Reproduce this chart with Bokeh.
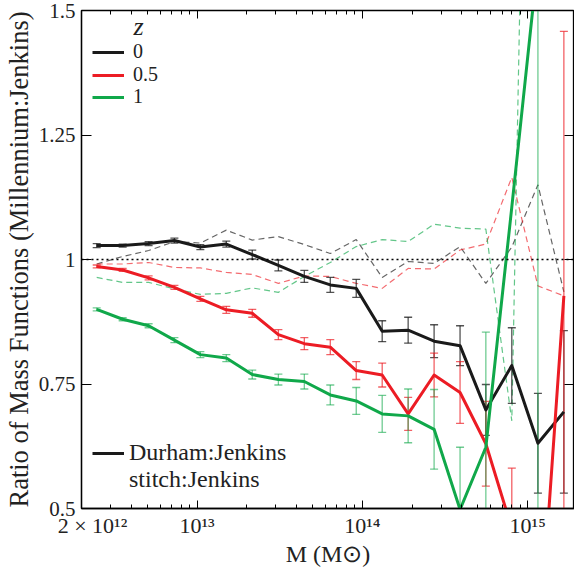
import math
from bokeh.plotting import figure
from bokeh.models import (Range1d, FixedTicker, LogAxis, LinearAxis, Span, Legend,
                          LegendItem, Label, CustomJSTickFormatter)
from bokeh.embed import file_html
from bokeh.resources import INLINE

nan = float("nan")

# ---- data ----
log_mass = [12.393, 12.550, 12.707, 12.863, 13.020, 13.177, 13.334, 13.492, 13.649, 13.806,
            13.963, 14.120, 14.277, 14.434, 14.591, 14.747, 14.904, 15.062, 15.219]

durham_z0 = [1.028, 1.028, 1.032, 1.038, 1.025, 1.031, 1.010, 0.988, 0.966, 0.949,
             0.942, 0.856, 0.858, 0.836, 0.827, 0.698, 0.787, 0.631, 0.694]
err_z0 = [0.004, 0.003, 0.004, 0.005, 0.005, 0.006, 0.009, 0.011, 0.012, 0.015,
          0.018, 0.021, 0.026, 0.033, 0.040, 0.051, 0.076, 0.100, 0.163]

durham_z05 = [0.986, 0.979, 0.963, 0.944, 0.921, 0.899, 0.892, 0.849, 0.831, 0.824,
              0.777, 0.768, 0.690, 0.768, 0.733, 0.630, 0.460, 0.183, 0.927]
err_z05 = [0.003, 0.003, 0.004, 0.004, 0.005, 0.007, 0.008, 0.010, 0.012, 0.015,
           0.018, 0.024, 0.033, 0.044, 0.062, 0.085, 0.121, 0.250, 0.531]

durham_z1 = [0.900, 0.880, 0.867, 0.838, 0.809, 0.802, 0.769, 0.759, 0.755, 0.728,
             0.716, 0.690, 0.686, 0.659, 0.498, 0.623, 1.105, 1.600, nan]
err_z1 = [0.003, 0.003, 0.004, 0.005, 0.006, 0.007, 0.009, 0.011, 0.015, 0.020,
          0.027, 0.037, 0.054, 0.080, 0.125, 0.231, nan, 1.200, nan]

stitch_z0 = [0.991, 1.006, 1.018, 1.036, 1.033, 1.059, 1.039, 1.046, 1.030, 1.012,
             1.040, 0.964, 0.996, 0.992, 1.026, 0.952, 1.025, 1.150, 0.935]
stitch_z05 = [0.991, 0.991, 0.994, 0.984, 0.983, 0.974, 0.970, 0.952, 0.967, 0.966,
              0.952, 0.942, 0.982, 0.981, 1.019, 1.031, 1.165, 0.947, 0.927]
stitch_z1 = [0.964, 0.954, 0.954, 0.941, 0.930, 0.932, 0.943, 0.934, 0.966, 0.994,
             1.026, 1.040, 1.036, 1.071, 1.063, 1.061, 0.676, 3.400, nan]

x_major = [2e12, 1e13, 1e14, 1e15]
x_minor = [3e12, 4e12, 5e12, 6e12, 7e12, 8e12, 9e12,
           2e13, 3e13, 4e13, 5e13, 6e13, 7e13, 8e13, 9e13,
           2e14, 3e14, 4e14, 5e14, 6e14, 7e14, 8e14, 9e14]
y_major = [0.5, 0.75, 1.0, 1.25, 1.5]

z_labels = ["0", "0.5", "1"]
method_labels = ["Durham:Jenkins", "stitch:Jenkins"]

mass = [10 ** v for v in log_mass]

BLACK = "#1a1a1a"
RED = "#ec1c24"
GREEN = "#10a84a"
FONT = "'Liberation Serif'"
TXT = "#222222"

p = figure(width=574, height=572, x_axis_type="log",
           x_range=Range1d(2e12, 1.92e15), y_range=Range1d(0.5, 1.5),
           output_backend="svg", toolbar_location=None,
           min_border_left=79, min_border_right=0, min_border_top=10, min_border_bottom=64)
p.xgrid.visible = False
p.ygrid.visible = False
p.outline_line_color = "black"
p.outline_line_width = 1.3
p.background_fill_color = "white"
p.border_fill_color = "white"

xt = FixedTicker(ticks=x_major, minor_ticks=x_minor)
yt = FixedTicker(ticks=y_major, minor_ticks=[])

xfmt = CustomJSTickFormatter(code="""
const sup = {"0":"\u2070","1":"\u00b9","2":"\u00b2","3":"\u00b3","4":"\u2074","5":"\u2075","6":"\u2076","7":"\u2077","8":"\u2078","9":"\u2079"};
const e = Math.floor(Math.log10(tick) + 1e-9);
const m = Math.round(tick / Math.pow(10, e));
const s = String(e).split("").map(c => sup[c]).join("");
return (m == 1 ? "" : "\u2002\u2002" + m + " \u00d7 ") + "10" + s;
""")
yfmt = CustomJSTickFormatter(code="return String(Number(tick.toFixed(2)));")
blank = CustomJSTickFormatter(code="return '';")

xa = p.xaxis[0]
xa.ticker = xt
xa.formatter = xfmt
xa.major_tick_in = 8
xa.major_tick_out = 0
xa.minor_tick_in = 4
xa.minor_tick_out = 0
xa.major_label_standoff = 4
xa.major_label_text_font = FONT
xa.major_label_text_font_size = "22px"
xa.major_label_text_color = TXT
xa.axis_label = "M (M\u2299)"
xa.axis_label_text_font = FONT
xa.axis_label_text_font_size = "24px"
xa.axis_label_text_font_style = "normal"
xa.axis_label_text_color = TXT
xa.axis_label_standoff = 0
xa.axis_line_color = "black"
xa.axis_line_width = 1.3

ya = p.yaxis[0]
ya.ticker = yt
ya.formatter = yfmt
ya.major_tick_in = 10
ya.major_tick_out = 0
ya.minor_tick_in = 0
ya.minor_tick_out = 0
ya.major_label_standoff = 6
ya.major_label_text_font = FONT
ya.major_label_text_font_size = "21px"
ya.major_label_text_color = TXT
ya.axis_label = "Ratio of Mass Functions (Millennium:Jenkins)"
ya.axis_label_text_font = FONT
ya.axis_label_text_font_size = "26.5px"
ya.axis_label_text_font_style = "normal"
ya.axis_label_text_color = TXT
ya.axis_label_standoff = 2
ya.axis_line_color = "black"
ya.axis_line_width = 1.3

top = LogAxis(ticker=xt, formatter=blank,
              major_label_standoff=0, major_tick_in=8, major_tick_out=0,
              minor_tick_in=4, minor_tick_out=0, axis_line_color="black")
p.add_layout(top, "above")
right = LinearAxis(ticker=yt, formatter=blank,
                   major_label_standoff=0, major_tick_in=10, major_tick_out=0,
                   minor_tick_in=0, minor_tick_out=0, axis_line_color="black")
p.add_layout(right, "right")

# reference line at unity
p.add_layout(Span(location=1.0, dimension="width", line_color="black",
                  line_dash="2 3", line_width=1.6))

# stitch:Jenkins dashed lines
p.line(mass, stitch_z0, line_color="#666666", line_width=1.2, line_dash="6 4")
p.line(mass, stitch_z05, line_color=RED, line_alpha=0.65, line_width=1.2, line_dash="6 4")
p.line(mass, stitch_z1, line_color=GREEN, line_alpha=0.65, line_width=1.2, line_dash="6 4")


def errorbars(vals, errs, color, alpha):
    lo = [v - e for v, e in zip(vals, errs)]
    hi = [v + e for v, e in zip(vals, errs)]
    p.segment(x0=mass, y0=lo, x1=mass, y1=hi, line_color=color, line_alpha=alpha, line_width=1.3)
    p.scatter(mass, lo, marker="dash", size=8, line_color=color, line_alpha=alpha, line_width=1.3)
    p.scatter(mass, hi, marker="dash", size=8, line_color=color, line_alpha=alpha, line_width=1.3)


errorbars(durham_z0, err_z0, BLACK, 0.75)
errorbars(durham_z05, err_z05, RED, 0.7)
errorbars(durham_z1, err_z1, GREEN, 0.6)

r0 = p.line(mass, durham_z0, line_color=BLACK, line_width=3, line_join="round")
r05 = p.line(mass, durham_z05, line_color=RED, line_width=3, line_join="round")
r1 = p.line(mass, durham_z1, line_color=GREEN, line_width=3, line_join="round")

dummy_dash = p.line([], [], line_color=BLACK, line_width=1.2, line_dash="5 3")

# redshift legend: one small legend per entry so the rows sit close together
for lab, rend, vy in zip(z_labels, [r0, r05, r1], [445, 422, 400]):
    p.add_layout(Legend(items=[LegendItem(label=lab, renderers=[rend])],
                        location=(11, vy), margin=0, padding=0, spacing=0,
                        glyph_width=32, glyph_height=20, label_height=20, label_standoff=9,
                        label_text_font=FONT, label_text_font_size="20px",
                        label_text_color=TXT,
                        border_line_color=None, background_fill_alpha=0), "center")

leg2 = Legend(items=[LegendItem(label=method_labels[0], renderers=[r0]),
                     LegendItem(label=method_labels[1], renderers=[dummy_dash])],
              location=(11, 15), margin=0, padding=0, spacing=0,
              glyph_width=32, glyph_height=24, label_height=24, label_standoff=5,
              label_text_font=FONT, label_text_font_size="24px",
              label_text_color=TXT,
              border_line_color=None, background_fill_alpha=0)
p.add_layout(leg2, "center")

p.add_layout(Label(x=52, y=482, x_units="screen", y_units="screen", text="z",
                   text_font=FONT, text_font_style="italic", text_font_size="26px",
                   text_color=TXT, text_baseline="middle"))

open("out.html", "w").write(file_html(p, INLINE))
